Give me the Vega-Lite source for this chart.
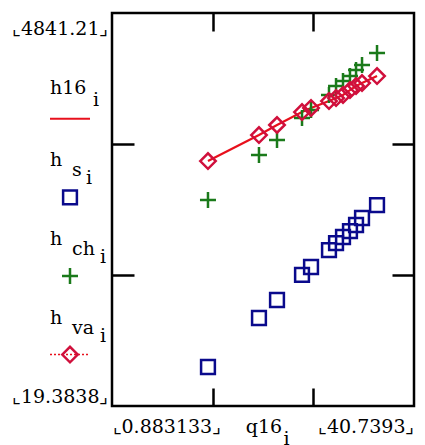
{
  "$schema": "https://vega.github.io/schema/vega-lite/v6.json",
  "padding": {"left": 5, "top": 10, "right": 5, "bottom": 0},
  "background": "white",
  "config": {"view": {"stroke": null}, "font": "DejaVu Serif", "point": {"opacity": 1}},
  "bounds": "flush",
  "spacing": 0,
  "resolve": {"scale": {"x": "independent", "y": "independent"}},
  "datasets": {
    "pts": [
      {"q": 13.55, "h16": 3025, "hs": 498, "hch": 2547, "hva": 3025},
      {"q": 20.28, "h16": 3344, "hs": 1099, "hch": 3099, "hva": 3344},
      {"q": 22.66, "h16": 3467, "hs": 1320, "hch": 3283, "hva": 3467},
      {"q": 25.96, "h16": 3626, "hs": 1627, "hch": 3553, "hva": 3626},
      {"q": 27.15, "h16": 3676, "hs": 1725, "hch": 3651, "hva": 3676},
      {"q": 29.52, "h16": 3761, "hs": 1933, "hch": 3835, "hva": 3761},
      {"q": 30.45, "h16": 3798, "hs": 2019, "hch": 3945, "hva": 3798},
      {"q": 31.37, "h16": 3835, "hs": 2093, "hch": 4007, "hva": 3835},
      {"q": 32.29, "h16": 3896, "hs": 2166, "hch": 4068, "hva": 3896},
      {"q": 33.09, "h16": 3945, "hs": 2240, "hch": 4142, "hva": 3945},
      {"q": 33.88, "h16": 3982, "hs": 2326, "hch": 4203, "hva": 3982},
      {"q": 35.86, "h16": 4068, "hs": 2485, "hch": 4350, "hva": 4068}
    ],
    "legend": [
      {"series": "h16", "main": "h16", "sub": ""},
      {"series": "hs", "main": "h", "sub": "s"},
      {"series": "hch", "main": "h", "sub": "ch"},
      {"series": "hva", "main": "h", "sub": "va"}
    ]
  },
  "hconcat": [
    {
      "width": 107,
      "height": 393,
      "data": {"name": "legend"},
      "encoding": {
        "y": {"field": "series", "type": "nominal", "scale": {"type": "point", "domain": ["h16", "hs", "hch", "hva"], "padding": 1.12, "align": 0.673}, "axis": null}
      },
      "layer": [
        {"transform": [{"filter": "datum.series != 'h16'"}], "mark": {"type": "text", "align": "left", "baseline": "alphabetic", "dx": -8.5, "dy": -31, "fontSize": 19, "font": "DejaVu Serif", "color": "black"}, "encoding": {"text": {"field": "main"}}},
        {"transform": [{"filter": "datum.series == 'h16'"}], "mark": {"type": "text", "align": "left", "baseline": "alphabetic", "dx": -8.5, "dy": -25, "fontSize": 19, "font": "DejaVu Serif", "color": "black"}, "encoding": {"text": {"field": "main"}}},
        {"transform": [{"filter": "datum.sub != ''"}], "mark": {"type": "text", "align": "left", "baseline": "alphabetic", "dx": 13.5, "dy": -21, "fontSize": 19, "font": "DejaVu Serif", "color": "black"}, "encoding": {"text": {"field": "sub"}}},
        {"transform": [{"filter": "datum.series == 'h16'"}], "mark": {"type": "text", "align": "left", "baseline": "alphabetic", "dx": 34.5, "dy": -13, "fontSize": 19, "font": "DejaVu Serif", "color": "black", "text": "i"}},
        {"transform": [{"filter": "datum.series == 'hs'"}], "mark": {"type": "text", "align": "left", "baseline": "alphabetic", "dx": 27.5, "dy": -13, "fontSize": 19, "font": "DejaVu Serif", "color": "black", "text": "i"}},
        {"transform": [{"filter": "datum.series == 'hch' || datum.series == 'hva'"}], "mark": {"type": "text", "align": "left", "baseline": "alphabetic", "dx": 41.5, "dy": -13, "fontSize": 19, "font": "DejaVu Serif", "color": "black", "text": "i"}},
        {"transform": [{"filter": "datum.series == 'h16'"}], "mark": {"type": "point", "shape": "M-1,0H1", "filled": false, "opacity": 1, "size": 1600, "color": "#e8101c", "strokeWidth": 2}, "encoding": {"xOffset": {"value": 11.5}}},
        {"transform": [{"filter": "datum.series == 'hs'"}], "mark": {"type": "point", "shape": "square", "filled": false, "opacity": 1, "size": 190, "color": "#0a0a8c", "strokeWidth": 2.5}, "encoding": {"xOffset": {"value": 11.5}}},
        {"transform": [{"filter": "datum.series == 'hch'"}], "mark": {"type": "point", "shape": "M-1,0H1M0,-1V1", "filled": false, "opacity": 1, "size": 256, "color": "#1a7a1a", "strokeWidth": 2.5}, "encoding": {"xOffset": {"value": 11.5}}},
        {"transform": [{"filter": "datum.series == 'hva'"}], "mark": {"type": "point", "shape": "M-1,0H1", "filled": false, "opacity": 1, "size": 1600, "color": "#e8101c", "strokeWidth": 1.5, "strokeDash": [2, 2]}, "encoding": {"xOffset": {"value": 11.5}}},
        {"transform": [{"filter": "datum.series == 'hva'"}], "mark": {"type": "point", "shape": "diamond", "filled": false, "opacity": 1, "size": 240, "color": "#d0103c", "strokeWidth": 2.5}, "encoding": {"xOffset": {"value": 11.5}}}
      ]
    },
    {
      "width": 302,
      "height": 393,
      "view": {"stroke": "black", "strokeWidth": 2.5},
      "data": {"name": "pts"},
      "resolve": {"axis": {"x": "independent", "y": "independent"}},
      "layer": [
        {
          "mark": {"type": "line", "color": "#e8101c", "strokeWidth": 2.2},
          "encoding": {
            "x": {"field": "q", "type": "quantitative", "scale": {"domain": [0.883133, 40.7393], "nice": false, "zero": false},
              "axis": {"orient": "bottom", "title": null, "values": [0.883133, 20.88, 23.85, 40.7393], "ticks": false, "domain": false, "grid": false, "labelFlush": true, "labelOverlap": false, "labelBound": false,
                "labelExpr": "datum.value < 1 ? '⌞0.883133⌟' : (datum.value > 40 ? '⌞40.7393⌟' : (datum.value < 22 ? 'q16' : 'i'))",
                "labelFont": "DejaVu Serif", "labelFontSize": 19, "labelColor": "black",
                "labelPadding": {"condition": {"test": "datum.value > 22 && datum.value < 40", "value": 23}, "value": 11}}},
            "y": {"field": "h16", "type": "quantitative", "scale": {"domain": [19.3838, 4841.21], "nice": false, "zero": false},
              "axis": {"orient": "left", "title": null, "values": [19.3838, 4841.21], "ticks": false, "domain": false, "grid": false, "labelFlush": true, "labelOverlap": false,
                "labelExpr": "datum.value > 1000 ? '⌞4841.21⌟' : '⌞19.3838⌟'",
                "labelFont": "DejaVu Serif", "labelFontSize": 19, "labelColor": "black", "labelPadding": 4,
                "labelOffset": {"condition": {"test": "datum.value > 1000", "value": 6}, "value": 0}}}
          }
        },
        {
          "mark": {"type": "point", "shape": "square", "filled": false, "opacity": 1, "size": 190, "color": "#0a0a8c", "strokeWidth": 2.5},
          "encoding": {
            "x": {"field": "q", "type": "quantitative", "axis": {"orient": "top", "title": null, "values": [14.1685, 27.4539], "labels": false, "domain": false, "grid": false, "tickSize": -18, "tickWidth": 2.5, "tickColor": "black"}},
            "y": {"field": "hs", "type": "quantitative", "axis": {"orient": "right", "title": null, "values": [1626.66, 3233.94], "labels": false, "domain": false, "grid": false, "tickSize": -22, "tickWidth": 2.5, "tickColor": "black"}}
          }
        },
        {
          "mark": {"type": "point", "shape": "M-1,0H1M0,-1V1", "filled": false, "opacity": 1, "size": 256, "color": "#1a7a1a", "strokeWidth": 2.5},
          "encoding": {
            "x": {"field": "q", "type": "quantitative", "axis": {"orient": "bottom", "title": null, "values": [14.1685, 27.4539], "labels": false, "domain": false, "grid": false, "tickSize": -18, "tickWidth": 2.5, "tickColor": "black"}},
            "y": {"field": "hch", "type": "quantitative", "axis": {"orient": "left", "title": null, "values": [1626.66, 3233.94], "labels": false, "domain": false, "grid": false, "tickSize": -22, "tickWidth": 2.5, "tickColor": "black"}}
          }
        },
        {
          "mark": {"type": "point", "shape": "diamond", "filled": false, "opacity": 1, "size": 240, "color": "#d0103c", "strokeWidth": 2.5},
          "encoding": {
            "x": {"field": "q", "type": "quantitative", "axis": null},
            "y": {"field": "hva", "type": "quantitative", "axis": null}
          }
        }
      ]
    }
  ]
}
